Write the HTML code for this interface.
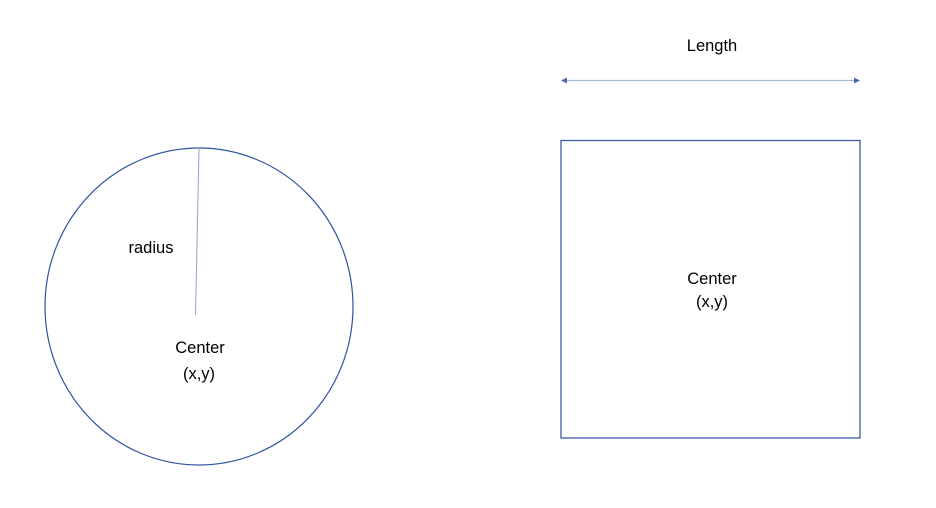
<!DOCTYPE html>
<html><head><meta charset="utf-8"><style>
html,body{margin:0;padding:0;background:#fff;}
svg{display:block;}
text{font-family:"Liberation Sans",sans-serif;font-size:16.5px;fill:#000;}
</style></head><body>
<svg width="936" height="508" viewBox="0 0 936 508" xmlns="http://www.w3.org/2000/svg">
<ellipse cx="199" cy="306.5" rx="154" ry="158.5" fill="none" stroke="#2F52A0" stroke-width="1.2"/>
<line x1="199" y1="148" x2="195.5" y2="315" stroke="#8FA3CC" stroke-width="1"/>
<rect x="561" y="140.5" width="299" height="297.5" fill="none" stroke="#3A5BA8" stroke-width="1.3"/>
<line x1="566" y1="80.5" x2="855" y2="80.5" stroke="#A9B8D8" stroke-width="1.2"/>
<polygon points="561,80.5 567,77.5 567,83.5" fill="#4A6AAE"/>
<polygon points="860,80.5 854,77.5 854,83.5" fill="#4A6AAE"/>
<text x="712" y="51" text-anchor="middle">Length</text>
<text x="151" y="253" text-anchor="middle">radius</text>
<text x="200" y="353" text-anchor="middle">Center</text>
<text x="199" y="379" text-anchor="middle">(x,y)</text>
<text x="712" y="284" text-anchor="middle">Center</text>
<text x="712" y="307" text-anchor="middle">(x,y)</text>
</svg>
</body></html>
